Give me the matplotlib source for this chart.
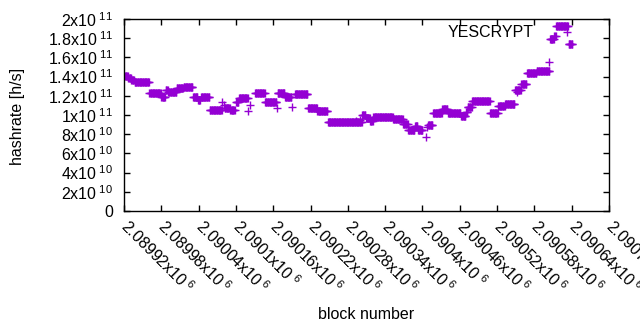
import numpy as np
import matplotlib
matplotlib.use("Agg")
import matplotlib.pyplot as plt
from matplotlib.ticker import FixedLocator, FuncFormatter

plt.rcParams['font.family'] = ['Liberation Sans', 'DejaVu Sans']
plt.rcParams['mathtext.fontset'] = 'custom'
plt.rcParams['mathtext.rm'] = 'Liberation Sans'
plt.rcParams['mathtext.it'] = 'Liberation Sans'

base = 2089920

# runs of consecutive blocks with a constant hashrate estimate (offsets from base)
seg_first = [2, 7, 12, 17, 41, 60, 67, 71, 85, 96, 111, 119, 124, 138, 162, 171,
             180, 185, 211, 227, 247, 259, 275, 296, 311, 328, 383, 389, 396, 401,
             433, 449, 457, 468, 473, 489, 497, 512, 521, 542, 550, 553, 560, 589,
             602, 613, 629, 639, 648, 664, 685, 692, 695, 715]
seg_last = [6, 11, 16, 40, 59, 66, 70, 84, 95, 110, 118, 122, 137, 157, 170, 178,
            184, 199, 226, 245, 258, 269, 295, 310, 327, 382, 388, 395, 400, 432,
            448, 456, 467, 472, 480, 496, 511, 520, 541, 549, 552, 559, 588, 601,
            612, 628, 638, 647, 663, 684, 691, 694, 714, 721]
seg_rate = [1.41e11, 1.39e11, 1.365e11, 1.34e11, 1.226e11, 1.19e11, 1.26e11, 1.235e11,
            1.28e11, 1.29e11, 1.19e11, 1.16e11, 1.185e11, 1.055e11, 1.07e11, 1.05e11,
            1.14e11, 1.175e11, 1.225e11, 1.14e11, 1.23e11, 1.19e11, 1.22e11, 1.07e11,
            1.04e11, 0.924e11, 1.0e11, 0.97e11, 0.94e11, 0.98e11, 0.955e11, 0.906e11,
            0.84e11, 0.885e11, 0.84e11, 0.9e11, 1.02e11, 1.06e11, 1.02e11, 0.987e11,
            1.03e11, 1.085e11, 1.15e11, 1.02e11, 1.09e11, 1.115e11, 1.26e11, 1.32e11,
            1.434e11, 1.458e11, 1.79e11, 1.82e11, 1.93e11, 1.736e11]

# single blocks that stand apart from their neighbours
lone_block = [158, 161, 199, 202, 246, 270, 373, 379, 485, 487, 632, 683]
lone_rate = [1.14e11, 1.10e11, 1.04e11, 1.10e11, 1.07e11, 1.08e11, 0.94e11,
             0.95e11, 0.774e11, 0.875e11, 1.24e11, 1.555e11]

blocks = []
rates = []
for a, b, r in zip(seg_first, seg_last, seg_rate):
    n = np.arange(a, b + 1)
    blocks.append(n)
    rates.append(np.full(len(n), r))
blocks = np.concatenate(blocks + [np.array(lone_block)]) + base
rates = np.concatenate(rates + [np.array(lone_rate)])

color = '#9400d3'
fs = 11.5

fig = plt.figure(figsize=(6.4, 3.3), dpi=100)
ax = fig.add_axes([124/640, 1 - 211/330, 485/640, 192/330])
ax.plot(blocks, rates, '+', color=color, markersize=6, markeredgewidth=1.0,
        label='YESCRYPT', linestyle='none')

ax.set_xlim(2089920, 2090700)
ax.set_ylim(0, 2e11)

xt = np.arange(2089920, 2090701, 60)
ax.xaxis.set_major_locator(FixedLocator(xt))
ax.xaxis.set_major_formatter(FuncFormatter(lambda v, p: '%gx10$^{\\ 6}$' % (v / 1e6)))

def ylab(v, p):
    if v == 0:
        return '0'
    e = int(np.floor(np.log10(v) + 1e-9))
    return '%gx10$^{\\ %d}$' % (round(v / 10**e, 3), e)

yt = np.arange(0, 2.01e11, 2e10)
ax.yaxis.set_major_locator(FixedLocator(yt))
ax.yaxis.set_major_formatter(FuncFormatter(ylab))

ax.tick_params(direction='in', length=4, width=1, top=True, right=True,
               labelsize=fs, colors='black')
ax.tick_params(axis='y', pad=8)
ax.tick_params(axis='x', pad=9)
for lab in ax.get_xticklabels():
    lab.set_rotation(-45)
    lab.set_ha('left')
    lab.set_va('center')
    lab.set_rotation_mode('anchor')
for s in ax.spines.values():
    s.set_linewidth(1)

ax.set_xlabel('block number', fontsize=fs)
ax.xaxis.set_label_coords(0.5, (211 - 307) / 192)
ax.set_ylabel('hashrate [h/s]', fontsize=fs)
ax.yaxis.set_label_coords((25 - 124) / 485, 0.49)

ax.legend(loc='upper right', bbox_to_anchor=(0.968, 1.0), markerfirst=False,
          frameon=False, fontsize=fs, handlelength=2.5, handletextpad=0.875,
          borderaxespad=0)

fig.savefig('out.png', dpi=100)
